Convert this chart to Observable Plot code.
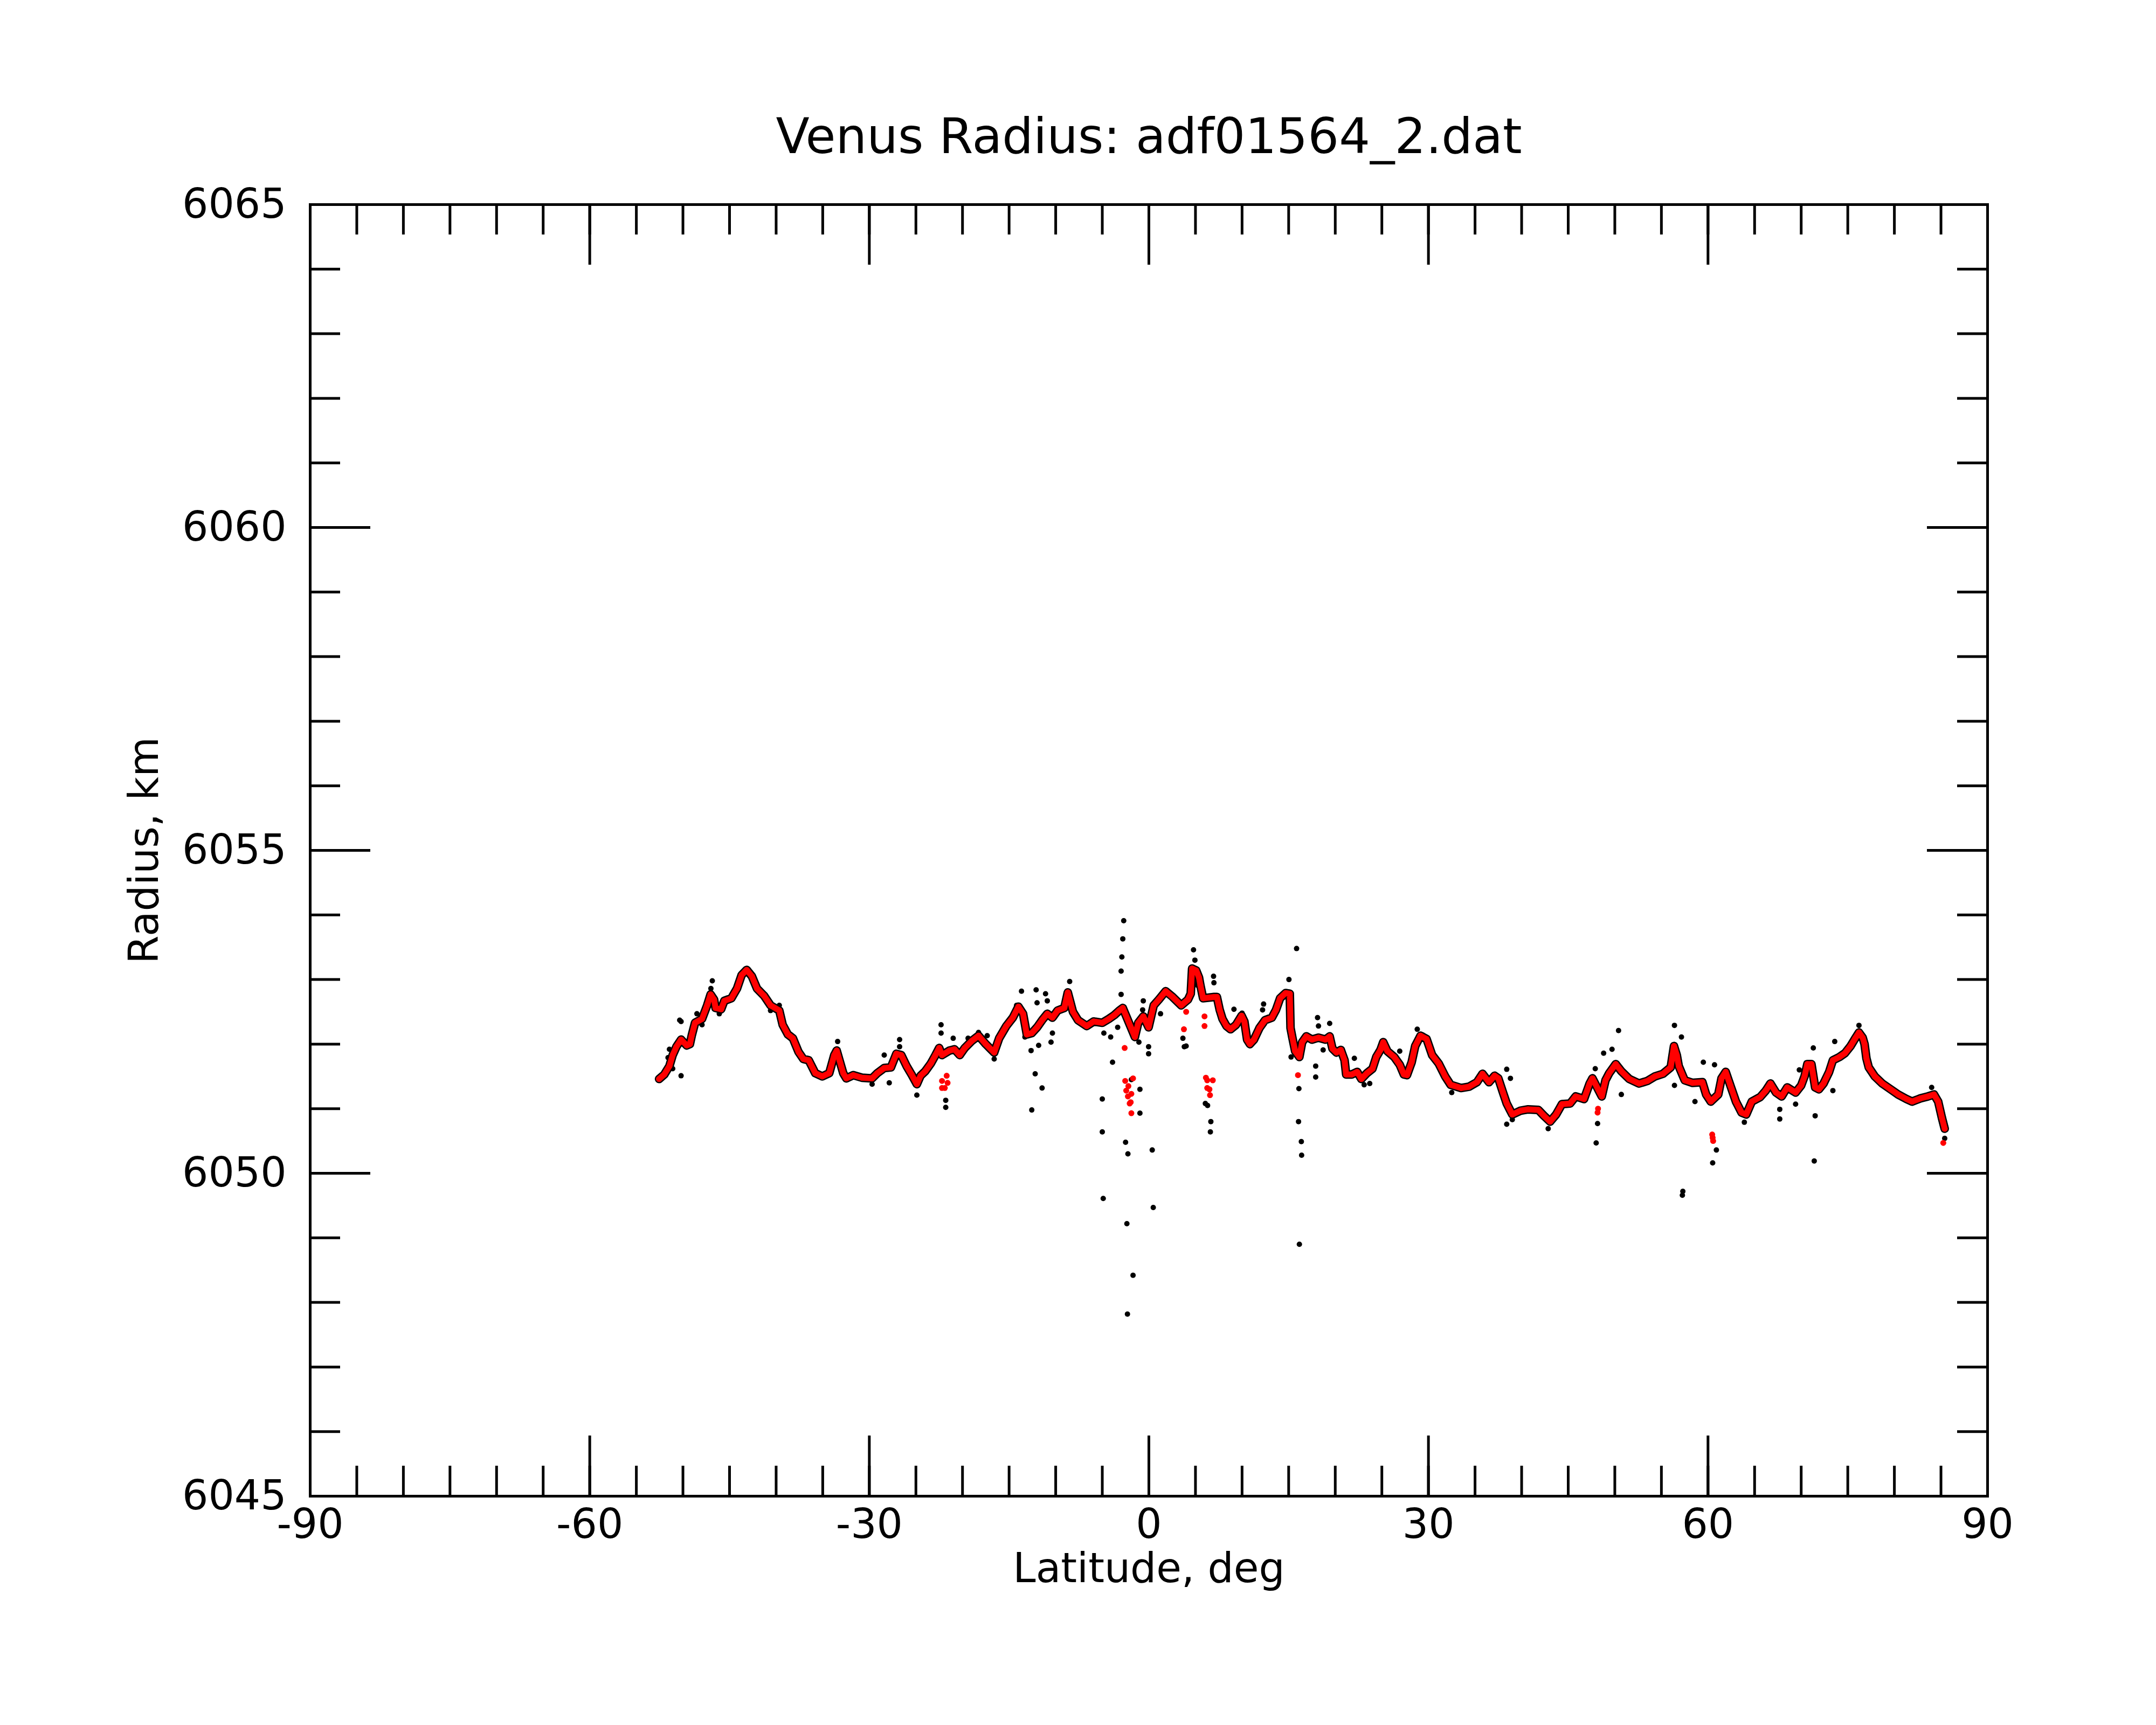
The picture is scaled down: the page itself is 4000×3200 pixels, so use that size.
<!DOCTYPE html>
<html><head><meta charset="utf-8">
<script src="https://cdn.jsdelivr.net/npm/d3@7"></script>
<script src="https://cdn.jsdelivr.net/npm/@observablehq/plot@0.6"></script>
<style>body{margin:0;background:#fff}</style>
</head><body><div id="chart"></div>
<script>
const title = "Venus Radius: adf01564_2.dat";
const xLabel = "Latitude, deg";
const yLabel = "Radius, km";
const xTickLabels = [-90, -60, -30, 0, 30, 60, 90];
const yTickLabels = [6045, 6050, 6055, 6060, 6065];

// filtered (red) trace
const redLat = [-52.56,-52.0,-51.45,-51.1,-50.7,-50.2,-49.6,-49.25,-49.06,-48.7,-47.95,-47.4,-47.03,-46.66,-46.5,-45.9,-45.56,-44.8,-44.2,-43.7,-43.16,-42.6,-42.05,-41.3,-40.6,-39.66,-39.3,-38.74,-38.2,-37.6,-37.08,-36.5,-35.8,-35.05,-34.3,-33.76,-33.5,-33.2,-32.8,-32.47,-31.73,-30.8,-29.7,-29.15,-28.4,-27.68,-27.1,-26.57,-26.0,-25.47,-24.9,-24.5,-24.0,-23.4,-22.9,-22.5,-22.2,-21.4,-20.86,-20.3,-19.76,-19.0,-18.28,-17.5,-16.6,-16.07,-15.3,-14.6,-14.0,-13.5,-13.1,-12.57,-12.0,-11.46,-10.9,-10.35,-9.8,-9.07,-8.7,-8.15,-7.6,-6.67,-5.93,-5.0,-4.3,-3.7,-3.17,-2.8,-1.5,-1.14,-0.6,-0.03,0.52,1.07,1.8,2.55,3.47,4.2,4.49,4.64,5.08,5.38,5.53,5.82,7.0,7.3,7.6,7.9,8.33,8.77,9.36,9.95,10.25,10.54,10.84,11.28,11.87,12.46,13.2,13.64,14.08,14.67,15.12,15.2,15.4,15.7,16.15,16.45,16.9,17.5,18.2,18.95,19.4,19.7,20.13,20.6,21.0,21.17,21.76,22.35,22.8,23.4,24.0,24.4,24.85,25.15,25.6,26.33,26.92,27.36,27.7,28.2,28.58,29.15,29.8,30.4,31.1,31.8,32.38,33.5,34.35,35.2,35.8,36.5,37.1,37.5,38.0,38.4,39.0,39.9,40.7,41.8,42.4,43.06,43.7,44.33,45.2,45.8,46.7,47.3,47.6,48.6,49.0,49.4,50.1,50.7,51.55,52.6,53.5,54.3,55.16,56.0,56.35,56.65,56.86,57.5,58.35,59.4,59.8,60.3,61.1,61.45,61.9,62.4,63.0,63.6,64.1,64.7,65.6,66.2,66.7,67.3,67.9,68.5,69.4,70.0,70.36,70.66,71.1,71.5,71.9,72.4,73.0,73.4,74.1,74.7,75.3,75.76,76.2,76.6,76.8,77.0,77.25,77.9,78.7,79.6,80.4,81.3,81.9,82.8,83.6,84.25,84.7,85.1,85.4];
const redR = [6051.46,6051.53,6051.66,6051.83,6051.96,6052.07,6051.98,6052.0,6052.13,6052.33,6052.39,6052.6,6052.77,6052.69,6052.56,6052.54,6052.67,6052.71,6052.86,6053.07,6053.15,6053.05,6052.86,6052.75,6052.6,6052.52,6052.3,6052.15,6052.09,6051.88,6051.77,6051.75,6051.55,6051.5,6051.55,6051.83,6051.9,6051.75,6051.55,6051.47,6051.52,6051.48,6051.47,6051.55,6051.63,6051.64,6051.85,6051.83,6051.66,6051.53,6051.38,6051.51,6051.58,6051.7,6051.83,6051.94,6051.83,6051.9,6051.92,6051.83,6051.94,6052.05,6052.13,6052.0,6051.87,6052.09,6052.28,6052.41,6052.58,6052.47,6052.15,6052.17,6052.26,6052.37,6052.47,6052.41,6052.52,6052.56,6052.8,6052.5,6052.37,6052.28,6052.35,6052.33,6052.39,6052.45,6052.52,6052.56,6052.11,6052.33,6052.43,6052.26,6052.6,6052.69,6052.82,6052.73,6052.6,6052.69,6052.78,6053.17,6053.14,6053.03,6052.91,6052.71,6052.73,6052.73,6052.53,6052.39,6052.28,6052.23,6052.3,6052.44,6052.35,6052.07,6052.0,6052.07,6052.25,6052.37,6052.41,6052.53,6052.71,6052.79,6052.78,6052.25,6052.1,6051.89,6051.8,6052.03,6052.12,6052.07,6052.1,6052.07,6052.12,6051.93,6051.87,6051.91,6051.75,6051.53,6051.53,6051.57,6051.46,6051.55,6051.62,6051.8,6051.91,6052.03,6051.89,6051.8,6051.68,6051.53,6051.52,6051.72,6051.97,6052.13,6052.08,6051.83,6051.7,6051.5,6051.37,6051.32,6051.34,6051.41,6051.54,6051.41,6051.51,6051.47,6051.25,6051.08,6050.91,6050.97,6050.99,6050.98,6050.89,6050.8,6050.91,6051.07,6051.08,6051.19,6051.15,6051.39,6051.47,6051.19,6051.44,6051.55,6051.69,6051.58,6051.46,6051.39,6051.43,6051.5,6051.54,6051.64,6051.97,6051.83,6051.66,6051.44,6051.4,6051.41,6051.22,6051.11,6051.22,6051.47,6051.57,6051.36,6051.11,6050.94,6050.91,6051.11,6051.18,6051.28,6051.39,6051.25,6051.19,6051.33,6051.25,6051.36,6051.5,6051.69,6051.69,6051.33,6051.3,6051.39,6051.57,6051.75,6051.8,6051.86,6051.97,6052.08,6052.18,6052.1,6052.0,6051.78,6051.64,6051.5,6051.39,6051.3,6051.22,6051.15,6051.11,6051.16,6051.19,6051.22,6051.11,6050.86,6050.69];

// red points lying off the main trace
const redOffLat = [-22.2,-22.2,-21.7,-21.6,-21.9,-2.6,-2.54,-2.43,-2.25,-2.06,-1.88,-1.7,-1.88,-2.2,-1.95,3.76,4.0,5.97,5.97,6.12,6.26,6.86,6.26,6.56,6.5,16.0,48.15,48.2,60.5,60.55,60.45,85.25];
const redOffR = [6051.43,6051.32,6051.51,6051.4,6051.32,6051.94,6051.43,6051.28,6051.19,6051.08,6050.93,6051.47,6051.23,6051.35,6051.1,6052.23,6052.5,6052.43,6052.28,6051.48,6051.44,6051.44,6051.32,6051.21,6051.3,6051.52,6050.94,6051.0,6050.55,6050.5,6050.6,6050.47];

// raw (black) points scattered off the trace
const blackLat = [-51.6,-51.45,-51.1,-50.35,-50.2,-50.2,-48.5,-47.95,-47.0,-46.85,-46.1,-40.6,-39.66,-33.4,-29.7,-28.4,-27.86,-26.75,-26.75,-24.9,-22.3,-22.3,-21.8,-21.8,-21.0,-19.4,-18.28,-17.35,-16.6,-14.8,-14.2,-13.67,-13.3,-12.64,-12.57,-12.2,-12.1,-12.0,-11.83,-11.46,-11.09,-10.9,-10.35,-10.5,-8.5,-4.83,-5.0,-5.0,-4.9,-3.9,-4.1,-3.35,-2.98,-2.98,-2.9,-2.8,-2.7,-2.5,-2.25,-2.36,-1.7,-2.3,-1.88,-0.96,-0.96,-1.6,-1.07,-0.6,-0.67,-0.03,-0.03,0.36,0.47,1.25,3.65,3.8,4.0,4.79,4.94,5.23,6.06,6.3,6.65,6.6,6.94,6.98,9.13,10.0,12.2,12.31,15.03,15.85,15.26,16.1,16.06,16.36,16.39,16.15,17.9,17.9,18.1,18.2,18.7,19.4,22.05,23.1,23.7,26.92,28.8,29.4,32.5,38.4,38.8,38.4,39.0,42.85,47.9,48.0,48.15,48.8,49.7,50.4,50.7,56.4,57.15,56.4,57.3,57.25,58.6,59.5,60.7,60.9,60.5,63.9,67.7,67.7,69.4,69.8,71.3,71.5,71.4,73.4,73.6,76.2,84.0,85.4];
const blackR = [6051.79,6051.92,6051.62,6052.37,6052.35,6051.51,6052.47,6052.3,6052.86,6052.98,6052.47,6052.52,6052.6,6052.04,6051.38,6051.83,6051.4,6052.07,6051.96,6051.21,6052.3,6052.17,6051.13,6051.02,6052.09,6052.09,6052.18,6052.13,6051.77,6052.37,6052.6,6052.82,6052.11,6051.9,6050.98,6051.54,6052.84,6052.64,6051.98,6051.32,6052.78,6052.67,6052.17,6052.03,6052.97,6052.17,6051.15,6050.64,6049.61,6051.72,6052.11,6052.26,6052.77,6053.13,6053.35,6053.63,6053.91,6050.48,6050.3,6049.22,6048.42,6047.82,6051.45,6051.3,6050.93,6052.22,6052.03,6052.67,6052.53,6051.96,6051.85,6050.36,6049.47,6052.47,6052.09,6051.96,6051.97,6053.46,6053.3,6052.91,6051.08,6051.05,6050.8,6050.64,6053.05,6052.95,6052.54,6052.48,6052.53,6052.62,6053.0,6053.48,6051.8,6051.31,6050.8,6050.49,6050.28,6048.9,6051.66,6051.49,6052.41,6052.28,6051.91,6052.32,6051.78,6051.37,6051.39,6051.89,6052.23,6052.14,6051.25,6051.61,6051.47,6050.76,6050.83,6050.69,6051.62,6050.47,6050.77,6051.86,6051.92,6052.21,6051.22,6052.29,6052.11,6051.36,6049.72,6049.66,6051.11,6051.72,6051.68,6050.36,6050.16,6050.79,6050.99,6050.84,6051.07,6051.6,6051.94,6050.89,6050.19,6051.28,6052.04,6052.29,6051.33,6050.54];

const red = redLat.map((lat, i) => ({lat, r: redR[i]}));
const redOff = redOffLat.map((lat, i) => ({lat, r: redOffR[i]}));
const black = blackLat.map((lat, i) => ({lat, r: blackR[i]}));

const W = 4000, H = 3200, mL = 575, mR = 313, mT = 379, mB = 425;
const innerW = W - mL - mR, innerH = H - mT - mB;
const minorLen = 56, majorLen = 112;
const xMinor = d3.range(-90, 91, 5);
const yMinor = d3.range(6045, 6066, 1);
const tk = {stroke: "black", strokeWidth: 5};
const RED = "#ff0000";

const chart = Plot.plot({
  width: W, height: H,
  marginLeft: mL, marginRight: mR, marginTop: mT, marginBottom: mB,
  style: {fontFamily: "DejaVu Sans", background: "white", color: "black"},
  x: {domain: [-90, 90]},
  y: {domain: [6045, 6065]},
  marks: [
    Plot.line(red, {x: "lat", y: "r", stroke: "black", strokeWidth: 16, strokeLinejoin: "round", strokeLinecap: "round"}),
    Plot.dot(black, {x: "lat", y: "r", r: 5, fill: "black"}),
    Plot.line(red, {x: "lat", y: "r", stroke: RED, strokeWidth: 11, strokeLinejoin: "round", strokeLinecap: "round"}),
    Plot.dot(red, {x: "lat", y: "r", r: 5.5, fill: RED}),
    Plot.dot(redOff, {x: "lat", y: "r", r: 5.5, fill: RED}),
    Plot.ruleX(xMinor, {...tk, insetTop: innerH - minorLen}),
    Plot.ruleX(xMinor, {...tk, insetBottom: innerH - minorLen}),
    Plot.ruleX(xTickLabels, {...tk, insetTop: innerH - majorLen}),
    Plot.ruleX(xTickLabels, {...tk, insetBottom: innerH - majorLen}),
    Plot.ruleY(yMinor, {...tk, insetRight: innerW - minorLen}),
    Plot.ruleY(yMinor, {...tk, insetLeft: innerW - minorLen}),
    Plot.ruleY(yTickLabels, {...tk, insetRight: innerW - majorLen}),
    Plot.ruleY(yTickLabels, {...tk, insetLeft: innerW - majorLen}),
    Plot.frame({stroke: "black", strokeWidth: 5}),
    Plot.axisX(xTickLabels, {tickSize: 0, tickPadding: 24, fontSize: 76, tickFormat: d => String(d), label: null}),
    Plot.axisY(yTickLabels, {tickSize: 0, tickPadding: 44, fontSize: 76, tickFormat: d => String(d), label: null}),
    Plot.text([title], {frameAnchor: "top", dy: -96, lineAnchor: "bottom", fontSize: 91}),
    Plot.text([xLabel], {frameAnchor: "bottom", dy: 159, lineAnchor: "bottom", fontSize: 76}),
    Plot.text([yLabel], {frameAnchor: "left", dx: -283, rotate: -90, textAnchor: "middle", lineAnchor: "bottom", fontSize: 76})
  ]
});
document.getElementById("chart").appendChild(chart);
</script></body></html>
